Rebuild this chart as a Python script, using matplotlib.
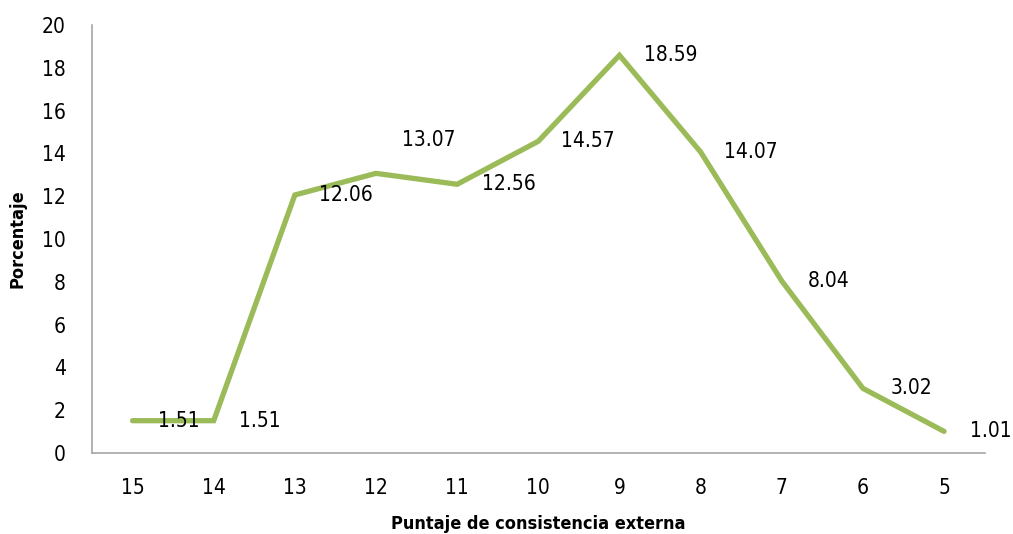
import matplotlib
matplotlib.use("Agg")
import matplotlib.pyplot as plt

plt.rcParams['font.family'] = ['DejaVu Sans']
plt.rcParams['font.stretch'] = 'condensed'

categories = ["15", "14", "13", "12", "11", "10", "9", "8", "7", "6", "5"]
values = [1.51, 1.51, 12.06, 13.07, 12.56, 14.57, 18.59, 14.07, 8.04, 3.02, 1.01]
# label offsets in points (dx, dy)
label_offsets = [(33, 0), (33, 0), (37, 0), (38, 24), (37, 0), (36, 0), (37, 0), (36, 0), (34, 0), (35, 0), (34, 0)]

fig = plt.figure(figsize=(10.13, 5.34), dpi=100)
ax = fig.add_axes([0.0908, 0.1517, 0.8812, 0.8013])

x = list(range(len(categories)))
ax.plot(x, values, color="#9BBB59", linewidth=3.8, solid_capstyle="round", solid_joinstyle="miter")

for xi, v, (dx, dy) in zip(x, values, label_offsets):
    ax.annotate(f"{v:.2f}", (xi, v), xytext=(dx, dy), textcoords="offset points",
                ha="center", va="center", fontsize=15, color="#000000")

ax.set_xlim(-0.5, len(categories) - 0.5)
ax.set_ylim(0, 20)
ax.set_yticks(range(0, 21, 2))
ax.set_xticks(x)
ax.set_xticklabels(categories)
ax.tick_params(axis="both", length=0, labelsize=15)
ax.tick_params(axis="y", pad=19)
ax.tick_params(axis="x", pad=18)

for s in ["top", "right"]:
    ax.spines[s].set_visible(False)
for s in ["left", "bottom"]:
    ax.spines[s].set_color("#A6A6A6")
    ax.spines[s].set_linewidth(1.2)

ax.set_xlabel("Puntaje de consistencia externa", fontsize=13, fontweight="bold", labelpad=12)
ax.set_ylabel("Porcentaje", fontsize=13, fontweight="bold", labelpad=11)

fig.savefig("out.png", dpi=100)
